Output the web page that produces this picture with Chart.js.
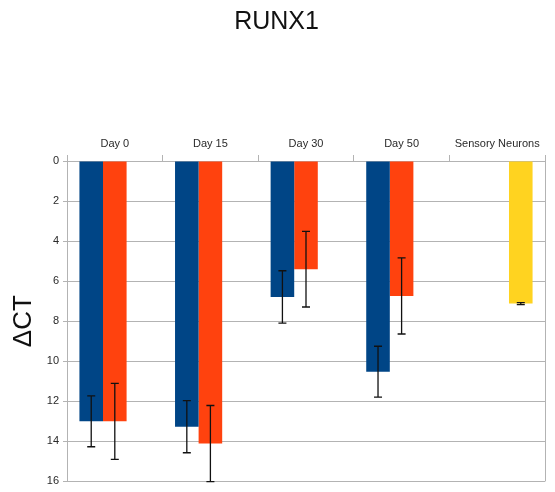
<!DOCTYPE html>
<html>
<head>
<meta charset="utf-8">
<script src="https://cdn.jsdelivr.net/npm/chart.js@4"></script>
<style>
  html, body { margin: 0; padding: 0; background: #fff; }
  #wrap { width: 555px; height: 492px; }
</style>
</head>
<body>
<div id="wrap"><canvas id="chart" width="555" height="492"></canvas></div>
<script>
const categories = ["Day 0", "Day 15", "Day 30", "Day 50", "Sensory Neurons"];

// series values (delta CT) and error bar half-widths
const blueValues = [13.0, 13.27, 6.79, 10.52, null];
const blueErrors = [1.27, 1.3, 1.31, 1.27, null];
const orangeValues = [13.0, 14.11, 5.4, 6.74, null];
const orangeErrors = [1.9, 1.9, 1.89, 1.9, null];
const yellowValues = [null, null, null, null, 7.12];
const yellowErrors = [null, null, null, null, 0.05];

const COLORS = {
  blue: "#004586",
  orange: "#ff420e",
  yellow: "#ffd320",
  grid: "#b3b3b3",
  text: "#2a2a2a",
};

// draws error whiskers on top of the bars
const errorBars = {
  id: "errorBars",
  afterDatasetsDraw(chart) {
    const ctx = chart.ctx;
    const yScale = chart.scales.y;
    chart.data.datasets.forEach((ds, i) => {
      const meta = chart.getDatasetMeta(i);
      meta.data.forEach((bar, j) => {
        const v = ds.data[j];
        const e = ds.errors[j];
        if (v == null || e == null) return;
        const top = yScale.getPixelForValue(v - e);
        const bot = yScale.getPixelForValue(v + e);
        ctx.save();
        ctx.strokeStyle = "#111";
        ctx.lineWidth = 1.3;
        ctx.beginPath();
        ctx.moveTo(bar.x, top);
        ctx.lineTo(bar.x, bot);
        ctx.moveTo(bar.x - 4, top);
        ctx.lineTo(bar.x + 4, top);
        ctx.moveTo(bar.x - 4, bot);
        ctx.lineTo(bar.x + 4, bot);
        ctx.stroke();
        ctx.restore();
      });
    });
  },
};

// right edge of the plot frame
const frame = {
  id: "frame",
  afterDraw(chart) {
    const a = chart.chartArea;
    const ctx = chart.ctx;
    ctx.save();
    ctx.strokeStyle = COLORS.grid;
    ctx.lineWidth = 1;
    ctx.beginPath();
    ctx.moveTo(a.right + 0.5, a.top);
    ctx.lineTo(a.right + 0.5, a.bottom);
    ctx.stroke();
    ctx.restore();
  },
};

new Chart(document.getElementById("chart"), {
  type: "bar",
  data: {
    labels: categories,
    datasets: [
      { label: "Blue", data: blueValues, errors: blueErrors, backgroundColor: COLORS.blue },
      { label: "Orange", data: orangeValues, errors: orangeErrors, backgroundColor: COLORS.orange },
      { label: "Yellow", data: yellowValues, errors: yellowErrors, backgroundColor: COLORS.yellow },
    ],
  },
  options: {
    responsive: false,
    animation: false,
    layout: { padding: { left: 8, right: 10, top: 0, bottom: 8 } },
    datasets: { bar: { barPercentage: 1, categoryPercentage: 0.74 } },
    plugins: {
      legend: { display: false },
      tooltip: { enabled: false },
      title: {
        display: true,
        text: "RUNX1",
        color: "#111",
        font: { family: "Liberation Sans", size: 25, weight: "normal" },
        padding: { top: 7.5, bottom: 0 },
      },
    },
    scales: {
      x: {
        position: "top",
        offset: true,
        afterFit(scale) { scale.height = 123.5; },
        grid: {
          offset: true,
          drawOnChartArea: false,
          tickLength: 6,
          color: COLORS.grid,
        },
        border: { color: COLORS.grid },
        ticks: {
          color: COLORS.text,
          padding: 4,
          font: { family: "Liberation Sans", size: 11 },
        },
      },
      y: {
        reverse: true,
        min: 0,
        max: 16,
        afterFit(scale) { scale.width = 59; },
        grid: { color: COLORS.grid, tickLength: 4 },
        border: { color: COLORS.grid },
        ticks: {
          stepSize: 2,
          color: COLORS.text,
          padding: 4,
          font: { family: "Liberation Sans", size: 11 },
        },
        title: {
          display: true,
          text: "ΔCT",
          color: "#111",
          font: { family: "Liberation Sans", size: 26 },
          padding: 0,
        },
      },
    },
  },
  plugins: [errorBars, frame],
});
</script>
</body>
</html>
